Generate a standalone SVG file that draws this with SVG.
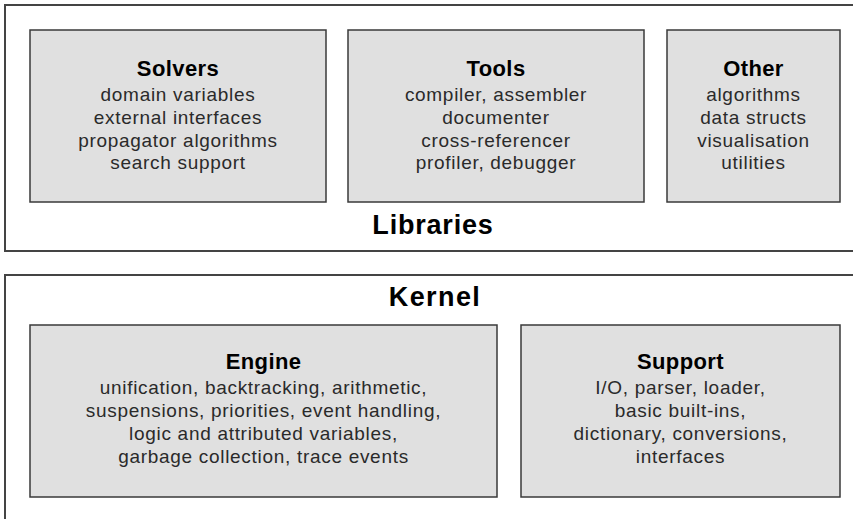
<svg xmlns="http://www.w3.org/2000/svg" width="853" height="519" viewBox="0 0 853 519">
<style>
.outer{fill:#fff;stroke:#444;stroke-width:2}
.box{fill:#e0e0e0;stroke:#3a3a3a;stroke-width:1.5}
.title{font-family:"Liberation Sans",Arial,sans-serif;font-weight:bold;font-size:22px;letter-spacing:0.4px;fill:#000;text-anchor:middle}
.body{font-family:"Liberation Sans",Arial,sans-serif;font-size:19px;letter-spacing:0.7px;fill:#2a2a2a;text-anchor:middle}
.big{font-family:"Liberation Sans",Arial,sans-serif;font-weight:bold;font-size:27px;letter-spacing:0.8px;fill:#000;text-anchor:middle}
</style>
<rect width="853" height="519" fill="#fff"/>
<g id="libraries">
<rect class="outer" x="5" y="5" width="860" height="246"/>
<text class="big" x="433" y="234">Libraries</text>
</g>
<g id="kernel">
<rect class="outer" x="5" y="275" width="860" height="260"/>
<text class="big" x="435" y="306" style="letter-spacing:1.4px">Kernel</text>
</g>
<g id="solvers">
<rect class="box" x="30" y="30" width="296" height="172"/>
<text class="title" x="178" y="76">Solvers</text>
<text class="body" x="178" y="101">domain variables</text>
<text class="body" x="178" y="124">external interfaces</text>
<text class="body" x="178" y="147">propagator algorithms</text>
<text class="body" x="178" y="169">search support</text>
</g>
<g id="tools">
<rect class="box" x="348" y="30" width="296" height="172"/>
<text class="title" x="496" y="76">Tools</text>
<text class="body" x="496" y="101">compiler, assembler</text>
<text class="body" x="496" y="124">documenter</text>
<text class="body" x="496" y="147">cross-referencer</text>
<text class="body" x="496" y="169">profiler, debugger</text>
</g>
<g id="other">
<rect class="box" x="667" y="30" width="173" height="172"/>
<text class="title" x="753.5" y="76">Other</text>
<text class="body" x="753.5" y="101">algorithms</text>
<text class="body" x="753.5" y="124">data structs</text>
<text class="body" x="753.5" y="147">visualisation</text>
<text class="body" x="753.5" y="169">utilities</text>
</g>
<g id="engine">
<rect class="box" x="30" y="325" width="467" height="172"/>
<text class="title" x="263.5" y="369">Engine</text>
<text class="body" x="263.5" y="394">unification, backtracking, arithmetic,</text>
<text class="body" x="263.5" y="417">suspensions, priorities, event handling,</text>
<text class="body" x="263.5" y="440">logic and attributed variables,</text>
<text class="body" x="263.5" y="463">garbage collection, trace events</text>
</g>
<g id="support">
<rect class="box" x="521" y="325" width="319" height="172"/>
<text class="title" x="680.5" y="369">Support</text>
<text class="body" x="680.5" y="394">I/O, parser, loader,</text>
<text class="body" x="680.5" y="417">basic built-ins,</text>
<text class="body" x="680.5" y="440">dictionary, conversions,</text>
<text class="body" x="680.5" y="463">interfaces</text>
</g>
<g id="connectors"/>
</svg>
